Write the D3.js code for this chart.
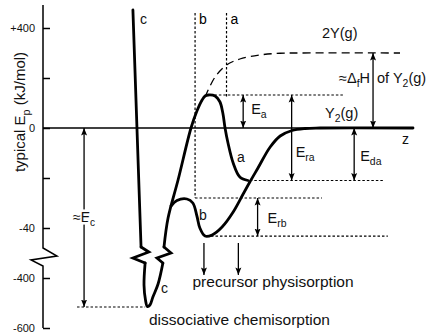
<!DOCTYPE html>
<html>
<head>
<meta charset="utf-8">
<script src="https://cdn.jsdelivr.net/npm/d3@7"></script>
<style>
  body { margin: 0; background: #fff; }
  svg { display: block; font-family: "Liberation Sans", Arial, sans-serif; }
</style>
</head>
<body>
<svg id="chart" width="428" height="333"></svg>
<script>
// energies in kJ/mol, z = distance from the surface (arbitrary units 0..10)
const tickValues = [400, 200, 0, -20, -40, -400, -600];
const tickLabels = ["+400", "", "0", "", "-40", "-400", "-600"];
const axisTop = 492;
const axisBreak = [-184, -242, -270, -314];

// curve c (dissociative chemisorption), drawn in pieces because of the axis break
const cLeft = [[2.43, 472], [2.65, -177]];
const cBreakLeft = [[2.65, -177], [2.86, -213], [2.43, -256], [2.76, -292]];
const cWell = [[2.76, -292], [2.73, -428], [2.77, -488], [2.82, -514], [2.89, -508], [2.97, -476], [3.11, -424], [3.24, -292]];
const cBreakRight = [[3.24, -292], [3.08, -256], [3.46, -220], [3.27, -177]];
// right branch of c running into the barrier and well of a
const curveA = [[3.27, -177], [3.38, -36], [3.65, -20.8], [4.00, 0], [4.16, 68], [4.30, 112], [4.38, 128],
  [4.47, 132], [4.65, 128], [4.78, 105], [4.86, 60], [4.92, 0], [5.00, -6], [5.14, -14], [5.32, -19.6], [5.54, -21]];
// curve b (precursor physisorption) out to Y2(g)
const curveB = [[3.46, -31.2], [3.62, -29], [3.89, -28.4], [4.05, -30], [4.16, -35.2], [4.24, -40], [4.38, -98],
  [4.57, -90], [4.84, -39.6], [5.14, -33.6], [5.41, -26.4], [5.59, -21.6], [5.81, -16], [6.14, -7.6],
  [6.41, -3.2], [6.73, -1], [7.08, -0.2], [7.49, 0], [10, 0]];
// 2Y(g) dashed curve
const curve2Y = [[4.38, 124], [4.65, 204], [4.96, 252], [5.32, 276], [5.86, 292], [6.41, 299], [6.95, 300], [9.65, 300]];

// dotted energy levels
const levelE = [132, -21, -28, -98, -516];
const levelFrom = [4.51, 5.59, 4.11, 4.54, 0.92];
const levelTo = [8.11, 9.19, 7.54, 9.32, 2.76];
// dotted vertical guides (b, a)
const guideZ = [4.11, 4.96];
const guideNames = ["b", "a"];
const guideTop = 460;
const guideBottom = [-28, 124];

// double arrows: Ea, Era, Eda, dfH, Erb, Ec
const arrowZ = [5.41, 6.72, 8.41, 8.92, 5.80, 1.11];
const arrowFrom = [132, 132, 0, 300, -28, 0];
const arrowTo = [0, -21, -21, 0, -98, -516];
// single arrows down to "precursor physisorption"
const precursorZ = [4.35, 5.28];
const precursorFrom = -148, precursorTo = -378;

const svg = d3.select('#chart');
const x = d3.scaleLinear().domain([0, 10]).range([43, 413]);
const y = d3.scaleLinear().domain([-600, -400, -40, 0, 400]).range([328, 278, 228, 128, 28]);

const defs = svg.append('defs');
defs.append('marker')
  .attr('id', 'head')
  .attr('viewBox', '0 -5 10 10')
  .attr('refX', 10).attr('refY', 0)
  .attr('markerWidth', 7.5).attr('markerHeight', 7.5)
  .attr('markerUnits', 'userSpaceOnUse')
  .attr('orient', 'auto-start-reverse')
  .append('path').attr('d', 'M0,-4L10,0L0,4L2,0Z').attr('fill', '#000');

const line = d3.line().x(d => x(d[0])).y(d => y(d[1]));
const smooth = d3.line().x(d => x(d[0])).y(d => y(d[1])).curve(d3.curveCatmullRom.alpha(0.5));

// y axis with break
const axis = d3.axisLeft(y).tickValues(tickValues).tickFormat((d, i) => tickLabels[i])
  .tickSizeInner(-7).tickSizeOuter(0).tickPadding(8);
const gAxis = svg.append('g').attr('transform', 'translate(' + x(0) + ',0)').call(axis);
gAxis.select('.domain').remove();
gAxis.selectAll('.tick line').attr('stroke', '#000').attr('stroke-width', 1.5);
gAxis.selectAll('.tick text').attr('font-size', 11).attr('fill', '#111')
  .attr('font-family', '"Liberation Sans", Arial, sans-serif');

const bx = [0, 14, -12, 0];
const axisPts = [[x(0), y(axisTop)]]
  .concat(axisBreak.map((e, i) => [x(0) + bx[i], y(e)]))
  .concat([[x(0), y(-600)]]);
svg.append('path').attr('d', d3.line()(axisPts))
  .attr('fill', 'none').attr('stroke', '#000').attr('stroke-width', 1.5);

// zero line
svg.append('line')
  .attr('x1', x(0)).attr('x2', x(10)).attr('y1', y(0)).attr('y2', y(0))
  .attr('stroke', '#000').attr('stroke-width', 1.3);

// dotted levels
levelE.forEach((e, i) => {
  svg.append('line')
    .attr('x1', x(levelFrom[i])).attr('x2', x(levelTo[i]))
    .attr('y1', y(e)).attr('y2', y(e))
    .attr('stroke', '#000').attr('stroke-width', 1.2).attr('stroke-dasharray', '2.5,2');
});
guideZ.forEach((z, i) => {
  svg.append('line')
    .attr('x1', x(z)).attr('x2', x(z))
    .attr('y1', y(guideTop)).attr('y2', y(guideBottom[i]))
    .attr('stroke', '#000').attr('stroke-width', 1.2).attr('stroke-dasharray', '2.5,2');
  svg.append('text').attr('x', x(z) + 4).attr('y', y(guideTop) + 11)
    .attr('font-size', 14).text(guideNames[i]);
});

// 2Y(g) dashed
svg.append('path').attr('d', smooth(curve2Y))
  .attr('fill', 'none').attr('stroke', '#000').attr('stroke-width', 1.3).attr('stroke-dasharray', '8,5');

// potential curves
const thick = sel => sel.attr('fill', 'none').attr('stroke', '#000').attr('stroke-width', 2.8)
  .attr('stroke-linejoin', 'miter').attr('stroke-linecap', 'round');
svg.append('path').attr('d', line(cLeft)).call(thick);
svg.append('path').attr('d', line(cBreakLeft)).call(thick);
svg.append('path').attr('d', smooth(cWell)).call(thick);
svg.append('path').attr('d', line(cBreakRight)).call(thick);
svg.append('path').attr('d', smooth(curveA)).call(thick);
svg.append('path').attr('d', smooth(curveB)).call(thick);

// arrows
arrowZ.forEach((z, i) => {
  svg.append('line')
    .attr('x1', x(z)).attr('x2', x(z))
    .attr('y1', y(arrowFrom[i])).attr('y2', y(arrowTo[i]))
    .attr('stroke', '#000').attr('stroke-width', 1.3)
    .attr('marker-start', 'url(#head)').attr('marker-end', 'url(#head)');
});
precursorZ.forEach(z => {
  svg.append('line')
    .attr('x1', x(z)).attr('x2', x(z))
    .attr('y1', y(precursorFrom)).attr('y2', y(precursorTo))
    .attr('stroke', '#000').attr('stroke-width', 1.3)
    .attr('marker-end', 'url(#head)');
});

// labels with subscripts
function label(px, py, parts, size, anchor) {
  const t = svg.append('text').attr('x', px).attr('y', py)
    .attr('font-size', size).attr('fill', '#111').attr('text-anchor', anchor || 'start');
  let low = false;
  parts.forEach(p => {
    const sub = p[1] === 'sub';
    const ts = t.append('tspan').text(p[0]);
    if (sub) ts.attr('font-size', size * 0.72);
    if (sub && !low) ts.attr('dy', size * 0.3);
    if (!sub && low) ts.attr('dy', -size * 0.3);
    low = sub;
  });
  return t;
}

label(x(cLeft[0][0]) + 7, 24, [['c']], 14);
label(322, y(300) - 15, [['2Y(g)']], 14.5);
label(x(arrowZ[3]) - 3, 83, [['≈Δ'], ['f', 'sub'], ['H']], 14.5, 'end');
label(x(arrowZ[3]) + 4, 83, [['of Y'], ['2', 'sub'], ['(g)']], 14.5);
label(325, y(0) - 10, [['Y'], ['2', 'sub'], ['(g)']], 14.5);
label(x(arrowZ[0]) + 8, 114, [['E'], ['a', 'sub']], 14.5);
label(x(arrowZ[1]) + 4, 157, [['E'], ['ra', 'sub']], 14.5);
label(x(arrowZ[2]) + 6, 161, [['E'], ['da', 'sub']], 14.5);
label(x(arrowZ[4]) + 10, 223, [['E'], ['rb', 'sub']], 14.5);
label(x(arrowZ[5]), 222, [['≈E'], ['c', 'sub']], 14, 'middle')
  .attr('stroke', '#fff').attr('stroke-width', 5).attr('paint-order', 'stroke');
label(237, 162, [['a']], 14);
label(199, 220, [['b']], 14);
label(161, 293, [['c']], 14);
label(402, y(0) + 16, [['z']], 14);
label(192.5, 286.5, [['precursor physisorption']], 15.5);
label(149, 324.5, [['dissociative chemisorption']], 15.5);

// y axis title
label(0, 0, [['typical E'], ['p', 'sub'], [' (kJ/mol)']], 15, 'middle')
  .attr('transform', 'translate(25,112) rotate(-90)');
</script>
</body>
</html>
